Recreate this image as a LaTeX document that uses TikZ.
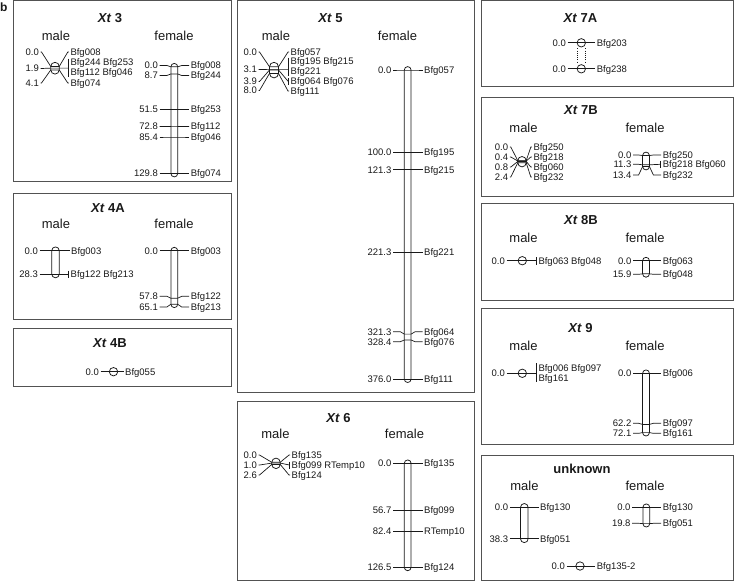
\documentclass[tikz,border=0pt]{standalone}
\usepackage{fontspec}
\setmainfont{Liberation Sans}
\newcommand\lblfont{\fontsize{9.5}{10}\selectfont}
\newcommand\ttlfont{\fontsize{13}{14}\selectfont\bfseries}
\newcommand\sexfont{\fontsize{13}{14}\selectfont}
\definecolor{framegray}{gray}{0.32}
\definecolor{ink}{gray}{0.1}
\tikzset{
  panel/.style={draw=framegray, line width=1pt},
  chrom/.style={draw=ink, line width=0.75pt},
  mline/.style={draw=ink, line width=0.7pt},
  markc/.style={circle, draw=ink, line width=0.75pt, minimum size=8.4pt, inner sep=0pt},
  lab/.style={font=\lblfont, inner sep=0pt, text height=6.8pt, text depth=0pt, text=ink},
  labL/.style={lab, anchor=east},
  labR/.style={lab, anchor=west},
  ttl/.style={font=\ttlfont, inner sep=0pt, text height=9.3pt, text depth=0pt, anchor=center, text=ink},
  sex/.style={font=\sexfont, inner sep=0pt, text height=9.3pt, text depth=0pt, anchor=center, text=ink},
  dots/.style={draw=ink, line width=0.7pt, dash pattern=on 0.8pt off 1.4pt},
}
\newcommand\setchr[4]{\def\CX{#1}\def\HW{#2}\def\XL{#3}\def\XR{#4}}
\newcommand\chrom[2]{\draw[chrom, rounded corners=\HW pt] ({\CX-\HW},{#1-\HW}) rectangle ({\CX+\HW},{#2+\HW});}
% female-style marker: name, marker y, label y, left text, right text
\newcommand\fmark[5]{%
  \node[labL] (#1L) at (\XL,#3) {#4};
  \node[labR] (#1R) at (\XR,#3) {#5};
  \draw[mline] ([xshift=1.5pt]#1L.east) -- ({\CX-\HW-4},#3) -- ({\CX-\HW},#2) -- ({\CX+\HW},#2) -- ({\CX+\HW+4},#3) -- ([xshift=-1.5pt]#1R.west);}
% crossing marker: name, marker y, left label y, right label y, left text, right text
\newcommand\xmark[6]{%
  \node[labL] (#1L) at (\XL,#3) {#5};
  \node[labR] (#1R) at (\XR,#4) {#6};
  \draw[mline] ([xshift=1.5pt]#1L.east) -- ++(1,0) -- ({\CX-\HW},#2) -- ({\CX+\HW},#2) -- ([xshift=-2.5pt]#1R.west) -- ([xshift=-1.5pt]#1R.west);}
% single point marker: name, y, left text, right text
\newcommand\smark[4]{%
  \node[labL] (#1L) at (\XL,#2) {#3};
  \node[labR] (#1R) at (\XR,#2) {#4};
  \draw[mline] ([xshift=1.5pt]#1L.east) -- ([xshift=-1.5pt]#1R.west);
  \node[markc] (#1C) at (\CX,#2) {};}
\newcommand\mbar[3]{\draw[mline] (#1,#2) -- (#1,#3);}
\begin{document}
\begin{tikzpicture}[x=1pt,y=-1pt]
\useasboundingbox (0,0) rectangle (735,582);
\node[font=\fontsize{12}{12}\selectfont\bfseries, inner sep=0pt, anchor=base, text=ink] (lblb) at (3.8,11.5) {b};
% panels
\draw[panel] (13.3,0.8) rectangle (231,181);
\draw[panel] (13.3,193) rectangle (231,319);
\draw[panel] (13.3,328) rectangle (231,386.5);
\draw[panel] (237,0.8) rectangle (474.3,392);
\draw[panel] (237,401) rectangle (474.3,580.5);
\draw[panel] (481,0.8) rectangle (733.5,86);
\draw[panel] (481,97) rectangle (733.5,196);
\draw[panel] (481,203) rectangle (733.5,300);
\draw[panel] (481,308) rectangle (733.5,444);
\draw[panel] (481,455) rectangle (733.5,580.5);

% ---------- Xt 3 ----------
\node[ttl] (T3) at (110,17.5) {\textit{Xt} 3};
\node[sex] (S3m) at (56,36) {male};
\node[sex] (S3f) at (174,36) {female};
\setchr{55}{4.2}{39}{70.3}
\xmark{a3a}{66.5}{52}{52}{0.0}{Bfg008}
\node[labL] (a3bL) at (\XL,68.5) {1.9};
\node[labR] (a3bR) at (70.3,62.5) {Bfg244 Bfg253};
\node[labR] (a3bS) at (70.3,72) {Bfg112 Bfg046};
\draw[mline] ([xshift=1.5pt]a3bL.east) -- ++(1,0) -- ({\CX-\HW},68.1) -- (68.3,68.1);
\mbar{68.3}{58.5}{77}
\xmark{a3c}{69.9}{83}{83}{4.1}{Bfg074}
\chrom{66.5}{69.9}
\setchr{174.3}{3.4}{158}{190.7}
\fmark{a3f1}{66.8}{65.5}{0.0}{Bfg008}
\fmark{a3f2}{73.95}{75.5}{8.7}{Bfg244}
\fmark{a3f3}{109.1}{109.1}{51.5}{Bfg253}
\fmark{a3f4}{126.6}{126.4}{72.8}{Bfg112}
\fmark{a3f5}{137}{137}{85.4}{Bfg046}
\fmark{a3f6}{173.5}{173.5}{129.8}{Bfg074}
\chrom{66.8}{173.5}

% ---------- Xt 4A ----------
\node[ttl] (T4A) at (108,207.7) {\textit{Xt} 4A};
\node[sex] (S4m) at (56,224) {male};
\node[sex] (S4f) at (174,224) {female};
\setchr{55.5}{3.8}{38}{71}
\xmark{a4m1}{250.7}{250.7}{250.7}{0.0}{Bfg003}
\node[labL] (a4m2L) at (\XL,274) {28.3};
\node[labR] (a4m2R) at (70.5,274) {Bfg122 Bfg213};
\draw[mline] ([xshift=1.5pt]a4m2L.east) -- (68.8,274);
\mbar{68.8}{270.5}{277.5}
\chrom{250.7}{274}
\setchr{174.3}{3.4}{158}{190.7}
\fmark{a4f1}{250.7}{250.7}{0.0}{Bfg003}
\fmark{a4f2}{298.2}{296.3}{57.8}{Bfg122}
\fmark{a4f3}{304.2}{307}{65.1}{Bfg213}
\chrom{250.7}{304.2}

% ---------- Xt 4B ----------
\node[ttl] (T4B) at (110,343.3) {\textit{Xt} 4B};
\setchr{113.5}{4.2}{99}{125}
\smark{a4b}{371.7}{0.0}{Bfg055}

% ---------- Xt 5 ----------
\node[ttl] (T5) at (330.5,17.5) {\textit{Xt} 5};
\node[sex] (S5m) at (276,36) {male};
\node[sex] (S5f) at (397.5,36) {female};
\setchr{274}{4.5}{257}{290.5}
\xmark{a5m1}{66.8}{52}{52}{0.0}{Bfg057}
\node[labL] (a5m2L) at (\XL,69.5) {3.1};
\node[labR] (a5m2R) at (290.5,61.5) {Bfg195 Bfg215};
\node[labR] (a5m2S) at (290.5,71) {Bfg221};
\draw[mline] ([xshift=1.5pt]a5m2L.east) -- ++(1,0) -- ({\CX-\HW},69.35) -- (288.3,69.35);
\mbar{288.3}{57.5}{75.5}
\node[labL] (a5m3L) at (\XL,81.5) {3.9};
\node[labR] (a5m3R) at (290.5,81.5) {Bfg064 Bfg076};
\draw[mline] ([xshift=1.5pt]a5m3L.east) -- ++(1,0) -- ({\CX-\HW},70) -- ({\CX+\HW},70) -- (288.3,81.5);
\mbar{288.3}{78}{85}
\xmark{a5m4}{73.4}{90.5}{91}{8.0}{Bfg111}
\chrom{66.8}{73.4}
\setchr{407.7}{3.4}{391.5}{424}
\fmark{a5f1}{70}{70}{0.0}{Bfg057}
\fmark{a5f2}{152.2}{152.2}{100.0}{Bfg195}
\fmark{a5f3}{169.7}{169.7}{121.3}{Bfg215}
\fmark{a5f4}{251.9}{251.9}{221.3}{Bfg221}
\fmark{a5f5}{334.1}{331.7}{321.3}{Bfg064}
\fmark{a5f6}{340}{341.7}{328.4}{Bfg076}
\fmark{a5f7}{379.1}{379.1}{376.0}{Bfg111}
\chrom{70}{379.1}

% ---------- Xt 6 ----------
\node[ttl] (T6) at (338.5,418.3) {\textit{Xt} 6};
\node[sex] (S6m) at (275.5,434.3) {male};
\node[sex] (S6f) at (404.5,434.3) {female};
\setchr{276}{4.2}{257}{291.5}
\xmark{a6m1}{462.3}{455}{455}{0.0}{Bfg135}
\node[labL] (a6m2L) at (\XL,465) {1.0};
\node[labR] (a6m2R) at (291.5,465) {Bfg099 RTemp10};
\draw[mline] ([xshift=1.5pt]a6m2L.east) -- ++(1,0) -- ({\CX-\HW},463.1) -- ({\CX+\HW},463.1) -- (289.5,465);
\mbar{289.5}{461.5}{468.5}
\xmark{a6m3}{464.4}{475}{475}{2.6}{Bfg124}
\chrom{462.3}{464.4}
\setchr{407.7}{3.4}{391.5}{424}
\fmark{a6f1}{463.3}{463.3}{0.0}{Bfg135}
\fmark{a6f2}{509.9}{509.9}{56.7}{Bfg099}
\fmark{a6f3}{531}{531}{82.4}{RTemp10}
\fmark{a6f4}{567.3}{567.3}{126.5}{Bfg124}
\chrom{463.3}{567.3}

% ---------- Xt 7A ----------
\node[ttl] (T7A) at (580.5,17.5) {\textit{Xt} 7A};
\setchr{581.3}{4.2}{566}{596.7}
\smark{a7a1}{42.8}{0.0}{Bfg203}
\smark{a7a2}{68.8}{0.0}{Bfg238}
\draw[dots] ([xshift=-3.9pt,yshift=-1pt]a7a1C.south) -- ([xshift=-3.9pt,yshift=1pt]a7a2C.north);
\draw[dots] ([xshift=3.9pt,yshift=-1pt]a7a1C.south) -- ([xshift=3.9pt,yshift=1pt]a7a2C.north);

% ---------- Xt 7B ----------
\node[ttl] (T7B) at (581,110) {\textit{Xt} 7B};
\node[sex] (S7m) at (523.5,127.5) {male};
\node[sex] (S7f) at (645,127.5) {female};
\setchr{522}{4.2}{508.3}{533.3}
\xmark{a7bm1}{160.7}{147}{147}{0.0}{Bfg250}
\xmark{a7bm2}{161.0}{157}{157}{0.4}{Bfg218}
\xmark{a7bm3}{161.4}{167}{167}{0.8}{Bfg060}
\xmark{a7bm4}{162.7}{177}{177}{2.4}{Bfg232}
\chrom{160.7}{162.7}
\setchr{646}{3.4}{631.5}{662.7}
\fmark{a7bf1}{155.5}{155}{0.0}{Bfg250}
\node[labL] (a7bf2L) at (\XL,164.3) {11.3};
\node[labR] (a7bf2R) at (662.7,164.3) {Bfg218 Bfg060};
\draw[mline] ([xshift=1.5pt]a7bf2L.east) -- ({\CX-\HW-4},164.3) -- ({\CX-\HW},164.8) -- ({\CX+\HW},164.8) -- (660.2,164.3);
\mbar{660.2}{160.8}{167.8}
\fmark{a7bf3}{166.5}{175}{13.4}{Bfg232}
\chrom{155.5}{166.5}

% ---------- Xt 8B ----------
\node[ttl] (T8B) at (581,220) {\textit{Xt} 8B};
\node[sex] (S8m) at (523.5,237.7) {male};
\node[sex] (S8f) at (645,237.7) {female};
\setchr{522.3}{4.2}{505}{538.3}
\node[labL] (a8mL) at (\XL,260.7) {0.0};
\node[labR] (a8mR) at (\XR,260.7) {Bfg063 Bfg048};
\draw[mline] ([xshift=1.5pt]a8mL.east) -- (536,260.7);
\mbar{536}{257}{264.5}
\node[markc] (a8mC) at (\CX,260.7) {};
\setchr{646}{3.4}{631.5}{662.7}
\fmark{a8f1}{260.7}{260.7}{0.0}{Bfg063}
\fmark{a8f2}{273.8}{274.3}{15.9}{Bfg048}
\chrom{260.7}{273.8}

% ---------- Xt 9 ----------
\node[ttl] (T9) at (580.5,328.3) {\textit{Xt} 9};
\node[sex] (S9m) at (523.5,345.7) {male};
\node[sex] (S9f) at (645,345.7) {female};
\setchr{522.3}{4.2}{505}{538.3}
\node[labL] (a9mL) at (\XL,373.3) {0.0};
\node[labR] (a9mR) at (\XR,367.7) {Bfg006 Bfg097};
\node[labR] (a9mS) at (\XR,377.7) {Bfg161};
\draw[mline] ([xshift=1.5pt]a9mL.east) -- (536,373.3);
\mbar{536}{363.3}{381.7}
\node[markc] (a9mC) at (\CX,373.3) {};
\setchr{646}{3.4}{631.5}{662.7}
\fmark{a9f1}{373.3}{373.3}{0.0}{Bfg006}
\fmark{a9f2}{424.4}{423.3}{62.2}{Bfg097}
\fmark{a9f3}{432.6}{433.3}{72.1}{Bfg161}
\chrom{373.3}{432.6}

% ---------- unknown ----------
\node[ttl] (TU) at (582,469.3) {unknown};
\node[sex] (SUm) at (524.5,486) {male};
\node[sex] (SUf) at (645,486) {female};
\setchr{524.3}{3.8}{508.3}{540}
\fmark{aum1}{507.3}{507.3}{0.0}{Bfg130}
\fmark{aum2}{538.8}{538.8}{38.3}{Bfg051}
\chrom{507.3}{538.8}
\setchr{646.3}{3.4}{630.7}{662.7}
\fmark{auf1}{507.3}{507.3}{0.0}{Bfg130}
\fmark{auf2}{523.6}{523.3}{19.8}{Bfg051}
\chrom{507.3}{523.6}
\setchr{580}{4.2}{565}{596.7}
\smark{aus}{566}{0.0}{Bfg135-2}
\end{tikzpicture}
\end{document}
